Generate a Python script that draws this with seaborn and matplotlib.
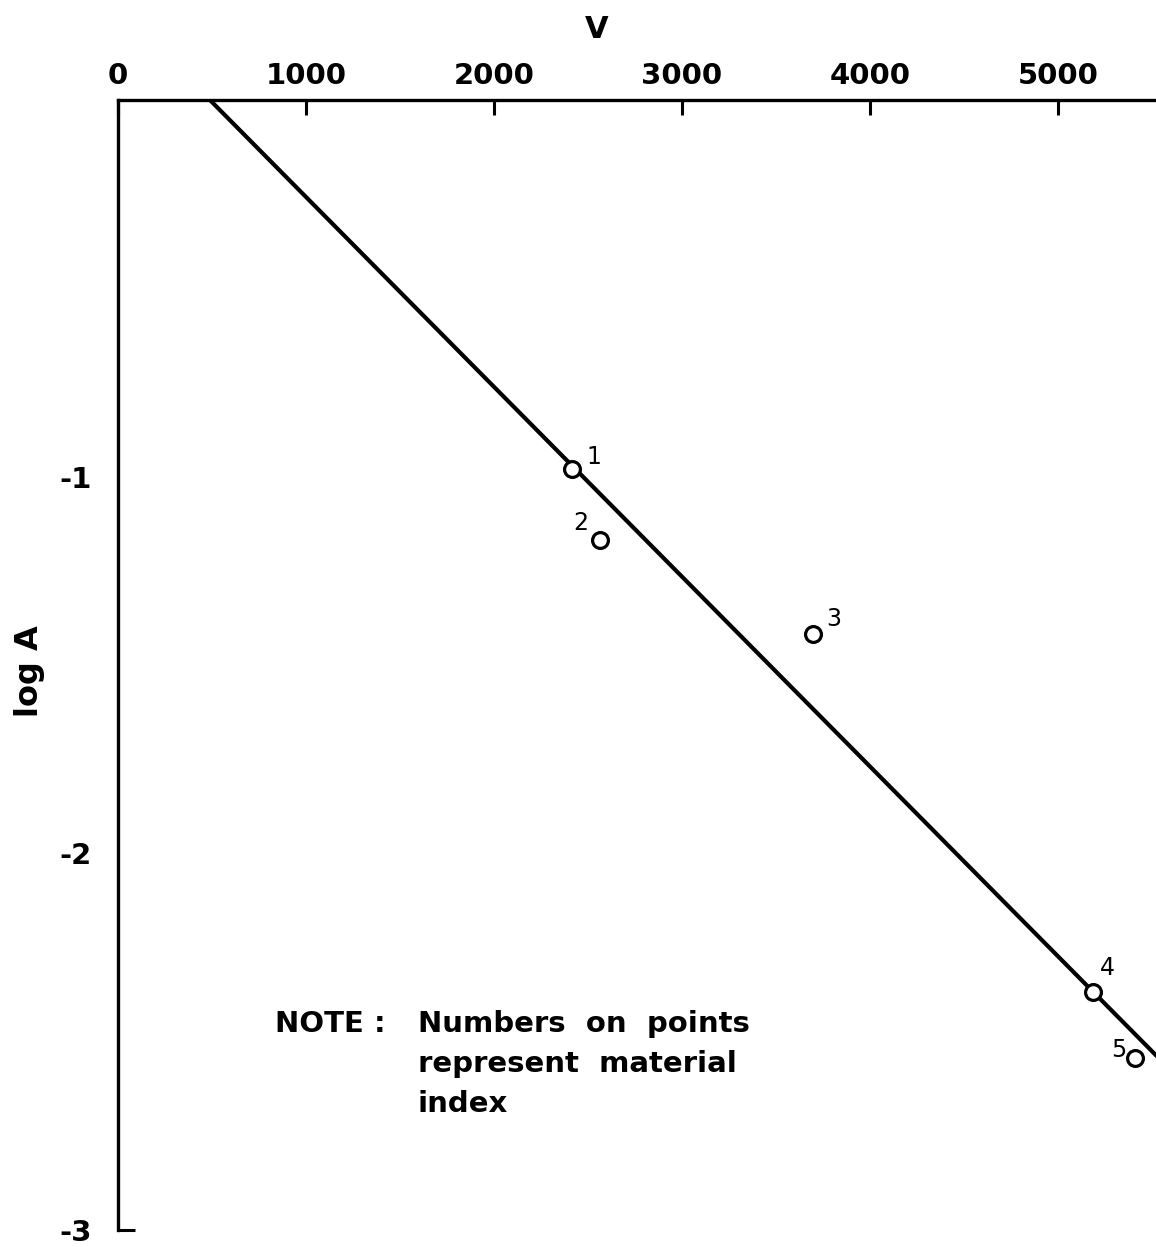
import matplotlib
matplotlib.use("Agg")
import matplotlib.pyplot as plt
import seaborn as sns
import pandas as pd

# ---- data ----
material_index = ["1", "2", "3", "4", "5"]
V_points = [2415, 2564, 3697, 5186, 5409]
logA_points = [-0.980, -1.168, -1.418, -2.368, -2.543]

V_line = [489, 5600]
logA_line = [0.0, -2.576]

x_ticks = [0, 1000, 2000, 3000, 4000, 5000]
y_ticks = [-1, -2]
y_minor = [-3]

label_offsets = [(16, 9), (-14, 12), (15, 11), (10, 17), (-12, 6)]

sns.set_theme(style="white")
plt.rcParams["font.family"] = ["DejaVu Sans"]
plt.rcParams["axes.unicode_minus"] = False
plt.rcParams["text.color"] = "black"
plt.rcParams["axes.labelcolor"] = "black"

fig = plt.figure(figsize=(11.56, 12.47), dpi=100)
ax = fig.add_axes([118 / 1156, 1 - 1230 / 1247, 1 - 118 / 1156, (1230 - 100) / 1247])

line_df = pd.DataFrame({"V": V_line, "logA": logA_line})
pts_df = pd.DataFrame({"V": V_points, "logA": logA_points, "idx": material_index})

sns.lineplot(data=line_df, x="V", y="logA", color="black", linewidth=3.0, ax=ax)
sns.scatterplot(data=pts_df, x="V", y="logA", marker="o", s=130, facecolor="white",
                edgecolor="black", linewidth=2.3, ax=ax, zorder=5)

for v, la, lab, off in zip(V_points, logA_points, material_index, label_offsets):
    ax.annotate(lab, (v, la), xytext=off, textcoords="offset points",
                ha="center", va="center", fontsize=17, fontweight="medium", color="black")

ax.set_xlim(0, 5521)
ax.set_ylim(-3, 0)

for s in ["bottom", "right"]:
    ax.spines[s].set_visible(False)
for s in ["top", "left"]:
    ax.spines[s].set_visible(True)
    ax.spines[s].set_color("black")
    ax.spines[s].set_linewidth(2.4)

ax.xaxis.tick_top()
ax.xaxis.set_label_position("top")
ax.set_xticks(x_ticks)
ax.set_xticklabels([str(t) for t in x_ticks])
ax.tick_params(axis="x", which="major", direction="in", length=11, width=2.2,
               labelsize=21, pad=7, colors="black")
for t in ax.get_xticklabels():
    t.set_fontweight("bold")

ax.set_yticks(y_ticks)
ax.set_yticklabels([str(t) for t in y_ticks])
ax.set_yticks(y_minor, minor=True)
ax.set_yticklabels([str(t) for t in y_minor], minor=True)
ax.tick_params(axis="y", which="major", direction="out", length=11, width=2.2,
               labelsize=21, pad=8, colors="black")
ax.tick_params(axis="y", which="minor", direction="in", length=12, width=2.2,
               labelsize=21, pad=19, left=True, colors="black")
for t in ax.get_yticklabels() + ax.get_yticklabels(minor=True):
    t.set_fontweight("bold")
ax.xaxis.set_minor_locator(matplotlib.ticker.NullLocator())

ax.set_xlabel("V", fontsize=22, fontweight="bold")
ax.xaxis.set_label_coords((597 - 118) / 1038, 1 + 62 / 1130)
ax.set_ylabel("log A", fontsize=23, fontweight="bold")
ax.yaxis.set_label_coords(-(118 - 45) / 1038, 0.495)

ax.text(835, -2.415, "NOTE :", fontsize=21, fontweight="bold", va="top", ha="left")
ax.text(1595, -2.415, "Numbers  on  points\nrepresent  material\nindex", fontsize=21,
        fontweight="bold", va="top", ha="left", linespacing=1.55)

ax.grid(False)
fig.savefig("out.png", dpi=100, facecolor="white")
